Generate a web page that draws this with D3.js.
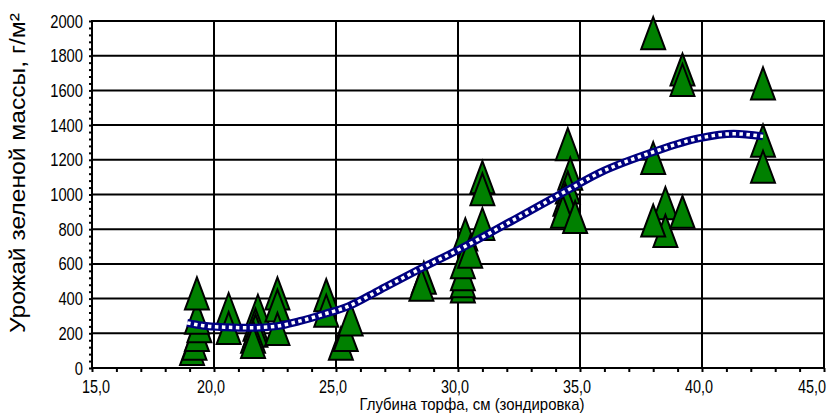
<!DOCTYPE html>
<html>
<head>
<meta charset="utf-8">
<script src="https://cdn.jsdelivr.net/npm/d3@7"></script>
<style>
body { margin:0; background:#fff; }
text { font-family: "Liberation Sans", Arial, sans-serif; fill:#000; }
</style>
</head>
<body>
<svg id="chart"></svg>
<script>
// measured points: depth (cm) and yield (g/m2)
var depth = [19.1,19.2,19.3,19.4,19.3,19.3, 20.6,20.6, 21.8,21.7,21.7,21.6,21.6,
             22.6,22.6,22.6, 24.6,24.6, 25.2,25.4,25.6, 28.6,28.5,
             30.2,30.2,30.2,30.2,30.3,30.5, 31.0,31.0,31.0,
             34.5,34.6,34.5,34.4,34.3,34.8,
             38.0,39.2,39.2,38.0,38.5,38.5,38.0,39.2, 42.5,42.5,42.5];
var yieldVals = [110,140,190,240,290,430, 340,230, 330,250,215,180,150,
             430,360,225, 420,330, 140,190,280, 520,480,
             470,500,540,610,770,670, 1100,1030,830,
             1290,1120,1040,970,900,870,
             1930,1720,1660,1210,950,790,850,900, 1640,1310,1160];

// smoothed trend line
var trendX = [18.9,19.5,20.5,21.5,22.5,23.5,24.5,25.5,26.8,28.5,30.0,32.3,34.3,35.8,38.0,39.9,41.3,42.5];
var trendY = [260,245,235,232,240,270,310,355,450,575,680,855,1010,1125,1245,1325,1350,1335];

var xTicks = [15,20,25,30,35,40,45];
var yTicks = [0,200,400,600,800,1000,1200,1400,1600,1800,2000];

var screen = {width:832, height:414};
var margins = {top:21, bottom:46, left:92, right:8};
var graph = {
    width: screen.width - margins.left - margins.right,
    height: screen.height - margins.top - margins.bottom
};

var svg = d3.select("#chart")
    .attr("width", screen.width)
    .attr("height", screen.height);

var xScale = d3.scaleLinear().domain([15,45]).range([margins.left, margins.left + graph.width]);
var yScale = d3.scaleLinear().domain([0,2000]).range([margins.top + graph.height, margins.top]);

// grid
svg.append("g").selectAll("line")
    .data(yTicks.slice(1))
    .enter().append("line")
    .attr("x1", margins.left).attr("x2", margins.left + graph.width)
    .attr("y1", function(d){ return yScale(d); })
    .attr("y2", function(d){ return yScale(d); })
    .attr("stroke", "#000").attr("stroke-width", 2);

svg.append("g").selectAll("line")
    .data(xTicks.slice(1))
    .enter().append("line")
    .attr("y1", margins.top).attr("y2", margins.top + graph.height)
    .attr("x1", function(d){ return xScale(d); })
    .attr("x2", function(d){ return xScale(d); })
    .attr("stroke", "#000").attr("stroke-width", 2);

// axes (only the small ticks, labels drawn below)
var xAxis = d3.axisBottom(xScale).tickValues(d3.range(15,46,1))
    .tickSize(4).tickFormat("");
var yAxis = d3.axisLeft(yScale).tickValues(d3.range(0,2001,40))
    .tickSize(3).tickFormat("");

var gx = svg.append("g")
    .attr("transform","translate(0," + (margins.top + graph.height) + ")")
    .call(xAxis);
var gy = svg.append("g")
    .attr("transform","translate(" + margins.left + ",0)")
    .call(yAxis);
[gx, gy].forEach(function(g){
    g.select(".domain").remove();
    g.selectAll("line").attr("stroke","#000").attr("stroke-width",2);
});

svg.append("rect")
    .attr("x", margins.left).attr("y", margins.top)
    .attr("width", graph.width).attr("height", graph.height)
    .attr("fill","none").attr("stroke","#000").attr("stroke-width",2);

// tick labels, squeezed a bit to look like a narrow face
svg.append("g").selectAll("text")
    .data(xTicks).enter().append("text")
    .attr("transform", function(d,i){
        var x = xScale(d) - 3;
        if (i == 0) x = 96;
        if (i == xTicks.length - 1) x = 812;
        return "translate(" + x + ",393) scale(0.8,1)";
    })
    .attr("text-anchor","middle")
    .attr("font-size", 18)
    .text(function(d){ return d.toFixed(1).replace(".", ","); });

svg.append("g").selectAll("text")
    .data(yTicks).enter().append("text")
    .attr("transform", function(d){
        return "translate(" + (margins.left - 9) + "," + (yScale(d) + 6.5) + ") scale(0.82,1)";
    })
    .attr("text-anchor","end")
    .attr("font-size", 18)
    .text(function(d){ return d; });

// axis titles
svg.append("text")
    .attr("x", 472).attr("y", 410)
    .attr("text-anchor","middle")
    .attr("font-size", 17)
    .attr("textLength", 225)
    .attr("lengthAdjust", "spacingAndGlyphs")
    .text("Глубина торфа, см (зондировка)");

svg.append("text")
    .attr("transform","translate(25,173) rotate(-90)")
    .attr("text-anchor","middle")
    .attr("font-size", 22)
    .attr("textLength", 320)
    .attr("lengthAdjust", "spacingAndGlyphs")
    .text("Урожай зеленой массы, г/м²");

// triangles
var points = depth.map(function(d,i){ return {x:d, y:yieldVals[i]}; });
svg.append("g").selectAll("path")
    .data(points).enter().append("path")
    .attr("d", function(p){
        var cx = xScale(p.x), cy = yScale(p.y);
        return "M" + cx + "," + (cy - 16) + "L" + (cx + 12) + "," + (cy + 16) +
               "L" + (cx - 12) + "," + (cy + 16) + "Z";
    })
    .attr("fill","#008000").attr("stroke","#000").attr("stroke-width",2);

// trend curve: thick navy line with small white squares
var trend = trendX.map(function(d,i){ return [d, trendY[i]]; });
var line = d3.line()
    .x(function(d){ return xScale(d[0]); })
    .y(function(d){ return yScale(d[1]); })
    .curve(d3.curveMonotoneX);

svg.append("path").datum(trend)
    .attr("d", line)
    .attr("fill","none").attr("stroke","#000080").attr("stroke-width",8);
svg.append("path").datum(trend)
    .attr("d", line)
    .attr("fill","none").attr("stroke","#fff").attr("stroke-width",3.5)
    .attr("stroke-dasharray","3.5,3.5");
</script>
</body>
</html>
